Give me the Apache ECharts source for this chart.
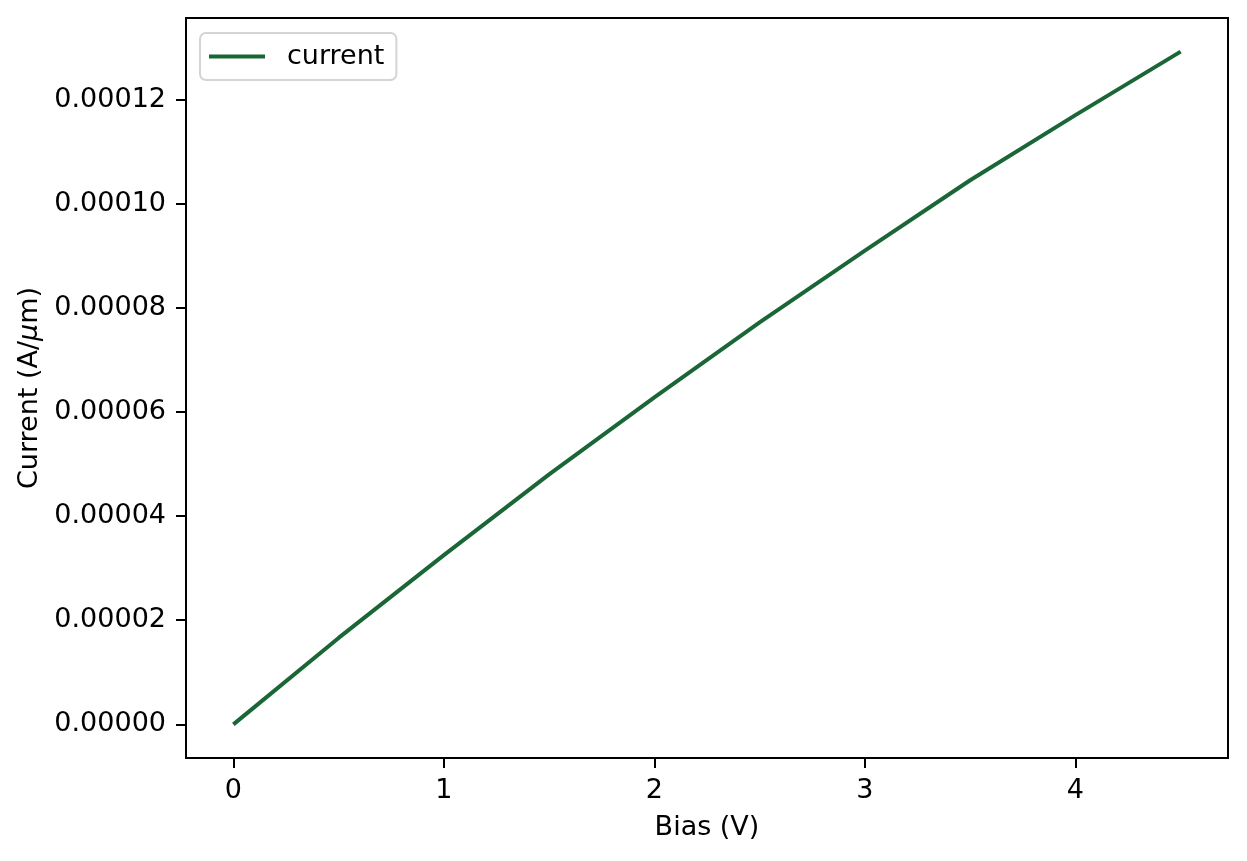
<!DOCTYPE html>
<html>
<head>
<meta charset="utf-8">
<script src="https://cdn.jsdelivr.net/npm/echarts@6/dist/echarts.min.js"></script>
<style>
html,body{margin:0;padding:0;background:#fff;}
#c{width:1247px;height:861px;}
</style>
</head>
<body>
<div id="c"></div>
<script>
var bias = [0, 0.5, 1.0, 1.5, 2.0, 2.5, 3.0, 3.5, 4.0, 4.5];
var current = [0, 1.66e-5, 3.25e-5, 4.80e-5, 6.28e-5, 7.72e-5, 9.10e-5, 1.045e-4, 1.170e-4, 1.292e-4];
var xTicks = [0, 1, 2, 3, 4];
var yTicks = [0, 0.00002, 0.00004, 0.00006, 0.00008, 0.00010, 0.00012];

var FONT = 'DejaVu Sans';
var chart = echarts.init(document.getElementById('c'), null, {renderer: 'canvas'});
var pts = bias.map(function (b, i) { return [b, current[i]]; });
var ymax = Math.max.apply(null, current);
var pad = ymax * 0.05;

chart.setOption({
  animation: false,
  backgroundColor: '#ffffff',
  textStyle: {fontFamily: FONT, color: '#000'},
  grid: {left: 186, right: 19, top: 18, bottom: 103, show: true, borderColor: '#000', borderWidth: 2, backgroundColor: 'transparent'},
  legend: {
    left: 200, top: 33,
    data: ['current'],
    icon: 'rect', itemWidth: 56, itemHeight: 4,
    padding: [10, 12, 10, 9],
    borderColor: '#d4d4d4', borderWidth: 2, borderRadius: 6,
    backgroundColor: 'rgba(255,255,255,0.8)',
    textStyle: {fontFamily: FONT, fontSize: 27, color: '#000', padding: [0, 0, 0, 17]}
  },
  xAxis: {
    type: 'value', min: -0.225, max: 4.725,
    name: 'Bias (V)', nameLocation: 'middle', nameGap: 56,
    nameTextStyle: {fontFamily: FONT, fontSize: 27, color: '#000'},
    axisLine: {show: true, onZero: false, lineStyle: {color: '#000', width: 2}},
    axisTick: {show: true, length: 10, lineStyle: {color: '#000', width: 2}, customValues: xTicks},
    axisLabel: {fontFamily: FONT, fontSize: 27, color: '#000', margin: 19, customValues: xTicks,
      formatter: function (v) { return String(v); }},
    splitLine: {show: false}
  },
  yAxis: {
    type: 'value', min: -pad, max: ymax + pad,
    name: 'Current (A/{i|μ}m)', nameLocation: 'middle', nameGap: 140,
    nameTextStyle: {fontFamily: FONT, fontSize: 27, color: '#000',
      rich: {i: {fontFamily: FONT, fontSize: 27, fontStyle: 'italic', color: '#000'}}},
    axisLine: {show: true, onZero: false, lineStyle: {color: '#000', width: 2}},
    axisTick: {show: true, length: 10, lineStyle: {color: '#000', width: 2}, customValues: yTicks},
    axisLabel: {fontFamily: FONT, fontSize: 27, color: '#000', margin: 20, customValues: yTicks,
      formatter: function (v) { return Number(v).toFixed(5); }},
    splitLine: {show: false}
  },
  series: [{
    name: 'current', type: 'line', data: pts,
    showSymbol: false, symbol: 'none',
    lineStyle: {color: '#1a6636', width: 4},
    itemStyle: {color: '#1a6636'}
  }]
});
</script>
</body>
</html>
